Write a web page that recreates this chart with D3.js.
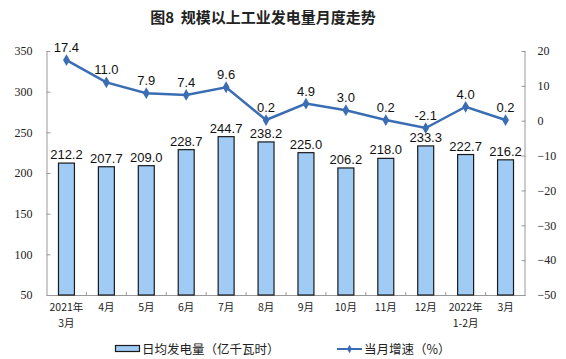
<!DOCTYPE html>
<html>
<head>
<meta charset="utf-8">
<script src="https://cdn.jsdelivr.net/npm/d3@7"></script>
<style>
  body { margin: 0; background: #fff; }
  svg { display: block; }
</style>
</head>
<body>
<div id="chart"></div>
<script>
// data
var months = ["2021年\n3月", "4月", "5月", "6月", "7月", "8月", "9月", "10月", "11月", "12月", "2022年\n1-2月", "3月"];
var dailyOutput = [212.2, 207.7, 209.0, 228.7, 244.7, 238.2, 225.0, 206.2, 218.0, 233.3, 222.7, 216.2];
var growth = [17.4, 11.0, 7.9, 7.4, 9.6, 0.2, 4.9, 3.0, 0.2, -2.1, 4.0, 0.2];
var leftTicks = [50, 100, 150, 200, 250, 300, 350];
var rightTicks = [-50, -40, -30, -20, -10, 0, 10, 20];

var width = 566, height = 359;
var margin = { top: 51, left: 46.5, right: 40.5, bottom: 64 };
var innerW = width - margin.left - margin.right,
    innerH = height - margin.top - margin.bottom;

var cjk = "'Noto Sans CJK SC', 'Noto Sans', sans-serif";
var serif = "'Liberation Serif', 'DejaVu Serif', serif";
var sans = "'Liberation Sans', Arial, sans-serif";
var lineColor = "#3b6db4";

var svg = d3.select("#chart").append("svg")
  .attr("width", width)
  .attr("height", height);

svg.append("text")
  .attr("x", 263)
  .attr("y", 23)
  .attr("text-anchor", "middle")
  .attr("font-family", cjk)
  .attr("font-size", "15px")
  .attr("font-weight", "bold")
  .attr("fill", "#222")
  .text("图8\u00a0\u00a0规模以上工业发电量月度走势");

var g = svg.append("g")
  .attr("transform", "translate(" + margin.left + "," + margin.top + ")");

var x = d3.scaleBand()
  .domain(months)
  .range([0, innerW])
  .paddingInner(0.6)
  .paddingOuter(0.3);

var yL = d3.scaleLinear().domain([50, 350]).range([innerH, 0]);
var yR = d3.scaleLinear().domain([-50, 20]).range([innerH, 0]);

// left axis
var leftAxis = g.append("g")
  .call(d3.axisLeft(yL).tickValues(leftTicks).tickSize(-4).tickPadding(14));
leftAxis.selectAll("line, path").attr("stroke", "#999");
leftAxis.select(".domain").attr("d", "M0.5,0V" + innerH);
leftAxis.selectAll("text")
  .attr("font-family", serif)
  .attr("font-size", "12px")
  .attr("fill", "#222");

// right axis
var rightAxis = g.append("g")
  .attr("transform", "translate(" + innerW + ",0)")
  .call(d3.axisRight(yR).tickValues(rightTicks).tickSize(-4).tickPadding(12)
    .tickFormat(d3.format("d")));
rightAxis.selectAll("line, path").attr("stroke", "#999");
rightAxis.select(".domain").attr("d", "M-0.5,0V" + innerH);
rightAxis.selectAll("text")
  .attr("font-family", serif)
  .attr("font-size", "12px")
  .attr("fill", "#222")
  .attr("text-anchor", "start");

// x axis line with small ticks between categories
g.append("line")
  .attr("x1", 0).attr("x2", innerW)
  .attr("y1", innerH + 0.5).attr("y2", innerH + 0.5)
  .attr("stroke", "#999");
var step = x.step();
g.selectAll(".xtick")
  .data(months.slice(1))
  .join("line")
  .attr("class", "xtick")
  .attr("x1", d => x(d) - (step - x.bandwidth()) / 2)
  .attr("x2", d => x(d) - (step - x.bandwidth()) / 2)
  .attr("y1", innerH - 3)
  .attr("y2", innerH)
  .attr("stroke", "#999");

// category labels, split into lines as separate texts
var labelLines = [];
months.forEach(function(m) {
  m.split("\n").forEach(function(p, i) {
    labelLines.push({ cat: m, text: p, row: i });
  });
});
g.selectAll(".xlabel")
  .data(labelLines)
  .join("text")
  .attr("class", "xlabel")
  .attr("x", d => x(d.cat) + x.bandwidth() / 2)
  .attr("y", d => innerH + 12.5 + d.row * 15.5)
  .attr("dy", "0.35em")
  .attr("text-anchor", "middle")
  .attr("font-family", cjk)
  .attr("font-size", "10.5px")
  .attr("fill", "#222")
  .text(d => d.text);

// bars
g.selectAll(".bar")
  .data(dailyOutput)
  .join("rect")
  .attr("class", "bar")
  .attr("x", (d, i) => x(months[i]))
  .attr("y", d => yL(d))
  .attr("width", x.bandwidth())
  .attr("height", d => innerH - yL(d))
  .attr("fill", "#9fcbf5")
  .attr("stroke", "#1a1a1a")
  .attr("stroke-width", 1.2);

g.selectAll(".barlabel")
  .data(dailyOutput)
  .join("text")
  .attr("class", "barlabel")
  .attr("x", (d, i) => x(months[i]) + x.bandwidth() / 2)
  .attr("y", d => yL(d) - 4)
  .attr("text-anchor", "middle")
  .attr("font-family", sans)
  .attr("font-size", "13px")
  .attr("fill", "#111")
  .text(d => d.toFixed(1));

// growth line
var line = d3.line()
  .x((d, i) => x(months[i]) + x.bandwidth() / 2)
  .y(d => yR(d));

g.append("path")
  .datum(growth)
  .attr("d", line)
  .attr("fill", "none")
  .attr("stroke", lineColor)
  .attr("stroke-width", 2.5);

var diamond = d3.symbol().type(d3.symbolDiamond).size(40);
g.selectAll(".pt")
  .data(growth)
  .join("path")
  .attr("class", "pt")
  .attr("d", diamond)
  .attr("transform", (d, i) => "translate(" + (x(months[i]) + x.bandwidth() / 2) + "," + yR(d) + ")")
  .attr("fill", lineColor);

g.selectAll(".ptlabel")
  .data(growth)
  .join("text")
  .attr("class", "ptlabel")
  .attr("x", (d, i) => x(months[i]) + x.bandwidth() / 2)
  .attr("y", d => yR(d) - 8)
  .attr("text-anchor", "middle")
  .attr("font-family", sans)
  .attr("font-size", "13px")
  .attr("fill", "#111")
  .text(d => d.toFixed(1));

// legend
var lg = svg.append("g").attr("transform", "translate(0,349)");
lg.append("rect")
  .attr("x", 115.5).attr("y", -3.5)
  .attr("width", 24).attr("height", 6)
  .attr("fill", "#9fcbf5")
  .attr("stroke", "#1a1a1a")
  .attr("stroke-width", 1.2);
lg.append("text")
  .attr("x", 142).attr("y", 4.5)
  .attr("font-family", cjk)
  .attr("font-size", "12.5px")
  .attr("fill", "#222")
  .text("日均发电量（亿千瓦时）");
lg.append("line")
  .attr("x1", 337).attr("x2", 362)
  .attr("y1", 0).attr("y2", 0)
  .attr("stroke", lineColor)
  .attr("stroke-width", 2);
lg.append("path")
  .attr("d", d3.symbol().type(d3.symbolDiamond).size(20))
  .attr("transform", "translate(349.5,0)")
  .attr("fill", lineColor);
lg.append("text")
  .attr("x", 364).attr("y", 4.5)
  .attr("font-family", cjk)
  .attr("font-size", "12.5px")
  .attr("fill", "#222")
  .text("当月增速（%）");
</script>
</body>
</html>
